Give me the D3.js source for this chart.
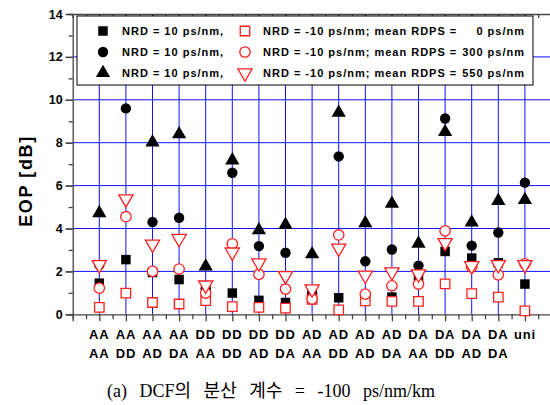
<!DOCTYPE html>
<html>
<head>
<meta charset="utf-8">
<script src="https://cdn.jsdelivr.net/npm/d3@7"></script>
<style>
  body { margin: 0; background: #fff; }
  svg { display: block; }
  text { font-family: "Liberation Sans", Arial, sans-serif; font-weight: bold; fill: #000; }
  text.caption { font-family: "Liberation Serif", "Noto Sans CJK KR", serif; font-weight: normal; }
</style>
</head>
<body>
<svg id="chart" width="550" height="405"></svg>
<script>
// x categories (two lines per label)
const catTop = ['AA', 'AA', 'AA', 'AA', 'DD', 'DD', 'DD', 'DD', 'AD', 'AD', 'AD', 'AD', 'DA', 'DA', 'DA', 'DA', 'uni'];
const catBottom = ['AA', 'DD', 'AD', 'DA', 'AA', 'DD', 'AD', 'DA', 'AA', 'DD', 'AD', 'DA', 'AA', 'DD', 'AD', 'DA', ''];

// NRD = 10 ps/nm (filled markers)
const pos0 = [1.45, 2.55, 1.95, 1.62, 1.3, 0.99, 0.65, 0.55, 1.05, 0.77, 0.7, 0.8, 1.7, 2.93, 2.62, 2.4, 1.41];
const pos300 = [2.3, 9.6, 4.3, 4.5, 1.2, 6.6, 3.18, 2.87, 1.0, 7.36, 2.47, 3.02, 2.27, 9.13, 3.2, 3.81, 6.14];
const pos550 = [4.72, null, 8.02, 8.4, 2.23, 7.18, 3.92, 4.17, 2.8, 9.4, 4.25, 5.16, 3.3, 8.5, 4.28, 5.29, 5.33];

// NRD = -10 ps/nm (open markers)
const neg0 = [0.32, 0.99, 0.55, 0.48, 0.64, 0.36, 0.32, 0.29, 0.7, 0.21, 0.63, 0.6, 0.6, 1.42, 0.96, 0.8, 0.16];
const neg300 = [1.22, 4.55, 2.0, 2.11, 0.99, 3.29, 1.86, 1.18, 0.71, 3.7, 0.94, 1.33, 1.41, 3.89, 2.2, 1.84, 2.35];
const neg550 = [2.31, 5.38, 3.27, 3.53, 1.36, 2.9, 2.39, 1.8, 1.18, 3.08, 1.82, 1.97, 1.88, 3.34, 2.26, 2.31, 2.31];

const yTicks = [0, 2, 4, 6, 8, 10, 12, 14];
const legendRdps = ['0', '300', '550'];

const svg = d3.select('#chart');
const red = '#ff2020';

const x = d3.scaleLinear().domain([0, 18]).range([72.7, 551.5]);
const y = d3.scaleLinear().domain([0, 14]).range([314.3, 14]);

// grid
const grid = svg.append('g').attr('stroke', '#1010ff').attr('stroke-width', 1);
grid.selectAll('.vg').data(catTop).enter().append('line')
    .attr('x1', (d, i) => x(i + 1)).attr('x2', (d, i) => x(i + 1))
    .attr('y1', y(0)).attr('y2', y(14));
grid.selectAll('.hg').data(yTicks.filter(d => d > 0 && d < 14)).enter().append('line')
    .attr('x1', x(0)).attr('x2', x(18))
    .attr('y1', d => y(d)).attr('y2', d => y(d));

// axes
const axisColor = '#444';
const xMinor = d3.range(0, 18.01, 0.5);
const yMinor = d3.range(0, 14.01, 1);

const leftAx = svg.append('g').attr('transform', `translate(${x(0)},0)`)
    .call(d3.axisLeft(y).tickValues(yMinor).tickSize(4).tickFormat(''));
leftAx.selectAll('.tick line').filter(d => d % 2 === 0).attr('x2', -7);
leftAx.append('g').call(d3.axisLeft(y).tickValues(yTicks).tickSize(7).tickPadding(3))
    .call(g => g.select('.domain').remove())
    .call(g => g.selectAll('text').style('font-size', '12.5px'));

const rightAx = svg.append('g').attr('transform', `translate(${x(18)},0)`)
    .call(d3.axisLeft(y).tickValues(yMinor).tickSize(-4).tickFormat(''));

const bottomAx = svg.append('g').attr('transform', `translate(0,${y(0)})`)
    .call(d3.axisBottom(x).tickValues(xMinor).tickSize(5).tickFormat(''));
bottomAx.selectAll('.tick line').filter(d => d % 1 === 0).attr('y2', 7);

const topAx = svg.append('g').attr('transform', `translate(0,${y(14)})`)
    .call(d3.axisTop(x).tickValues(xMinor).tickSize(-4).tickFormat(''));

[leftAx, rightAx, bottomAx, topAx].forEach(g => g.selectAll('path, line').attr('stroke', axisColor).attr('stroke-width', 1.3));

// x labels
const xl = svg.append('g').attr('font-size', 13).attr('text-anchor', 'middle').attr('letter-spacing', 0.8);
xl.selectAll('.l1').data(catTop).enter().append('text')
    .attr('x', (d, i) => x(i + 1)).attr('y', 339).text(d => d);
xl.selectAll('.l2').data(catBottom).enter().append('text')
    .attr('x', (d, i) => x(i + 1)).attr('y', 358).text(d => d);

// y title
svg.append('text')
    .attr('transform', `translate(32,181) rotate(-90)`)
    .attr('text-anchor', 'middle').attr('font-size', 18).attr('letter-spacing', 1.6)
    .text('EOP [dB]');

// markers
const sym = {
    square: d3.symbol().type(d3.symbolSquare).size(90)(),
    circle: d3.symbol().type(d3.symbolCircle).size(85)(),
    triangle: d3.symbol().type(d3.symbolTriangle).size(88)()
};
const series = [
    { values: pos0, shape: 'square', open: false },
    { values: pos300, shape: 'circle', open: false },
    { values: pos550, shape: 'triangle', open: false },
    { values: neg0, shape: 'square', open: true },
    { values: neg300, shape: 'circle', open: true },
    { values: neg550, shape: 'triangle', open: true, flip: true }
];

function styleMarker(sel, s) {
    sel.attr('d', sym[s.shape])
        .attr('fill', s.open ? '#fff' : '#000')
        .attr('stroke', s.open ? red : 'none')
        .attr('stroke-width', 1.3);
}

series.forEach(s => {
    svg.append('g').selectAll('path')
        .data(s.values.map((v, i) => ({ v, i })).filter(d => d.v !== null))
        .enter().append('path')
        .attr('transform', d => `translate(${x(d.i + 1)},${y(d.v)})` + (s.flip ? ' rotate(180)' : ''))
        .call(styleMarker, s);
});

// legend
const lg = svg.append('g');
lg.append('rect').attr('x', 77).attr('y', 16).attr('width', 456).attr('height', 69)
    .attr('fill', '#fff').attr('stroke', '#000').attr('stroke-width', 1);
const rowsY = [31, 52, 73];
series.forEach((s, k) => {
    const row = k % 3;
    const mx = s.open ? 245 : 103;
    lg.append('path')
        .attr('transform', `translate(${mx},${rowsY[row]})` + (s.flip ? ' rotate(180)' : ''))
        .call(styleMarker, s);
});
rowsY.forEach((ry, row) => {
    lg.append('text').attr('x', 122).attr('y', ry + 4).attr('font-size', 11).attr('letter-spacing', 1)
        .text('NRD = 10 ps/nm,');
    lg.append('text').attr('x', 263).attr('y', ry + 4).attr('font-size', 11).attr('letter-spacing', 1)
        .text('NRD = -10 ps/nm; mean RDPS =');
    lg.append('text').attr('x', 525).attr('y', ry + 4).attr('font-size', 11).attr('letter-spacing', 1)
        .attr('text-anchor', 'end').text(legendRdps[row] + ' ps/nm');
});

// caption
svg.append('text').attr('class', 'caption')
    .attr('x', 271).attr('y', 397).attr('text-anchor', 'middle')
    .attr('font-size', 18).attr('word-spacing', 8)
    .text('(a) DCF의 분산 계수 = -100 ps/nm/km');
</script>
</body>
</html>
